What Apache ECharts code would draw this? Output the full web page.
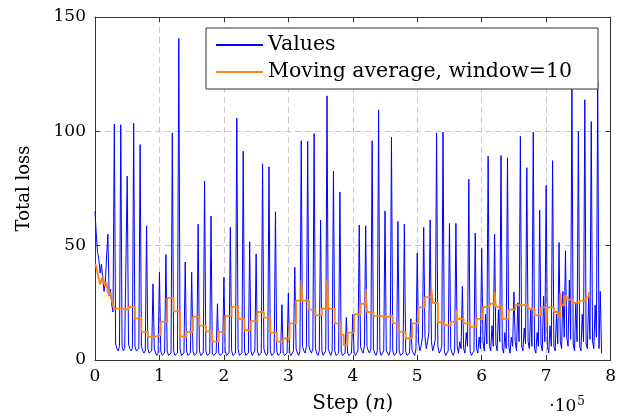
<!DOCTYPE html>
<html>
<head>
<meta charset="utf-8">
<script src="https://cdn.jsdelivr.net/npm/echarts@6/dist/echarts.min.js"></script>
<style>
html,body{margin:0;padding:0;background:#fff;}
#chart{width:619px;height:419px;}
</style>
</head>
<body>
<div id="chart"></div>
<script>
// ---- data ----
const SAMPLE_STEP = 2000;           // steps between recorded values
const seriesNames = ['Values', 'Moving average, window=10'];
const xTickLabels = ['0', '1', '2', '3', '4', '5', '6', '7', '8'];   // ×10^5
const yTickLabels = ['0', '50', '100', '150'];

// total loss, one value every 2000 steps
const lossStart = [65, 55, 47, 44, 38, 42, 36, 30, 34, 45, 55, 28, 31, 24, 21];
const lossA = [
  103.2, 7, 5, 4, 6,   102.9, 6, 4, 5, 5,   80.4, 7, 5, 4, 5,   103.6, 6, 4, 4, 5,
  94.2, 6, 4, 3, 4,    58.7, 5, 3, 3, 4,    33.3, 5, 3, 2, 3,   38.4, 4, 2, 2, 3,
  46.1, 4, 2, 2, 3,    99.3, 4, 2, 2, 3,    140.6, 5, 2, 2, 3,  42.8, 4, 2, 2, 3,
  38.4, 4, 2, 1.5, 3,  59.4, 4, 2, 2, 3,    78.3, 4, 2, 2, 3,   63, 3, 2, 1.5, 3,
  24.6, 3, 2, 2, 3,    36.2, 4, 2, 2, 3,    58, 4, 2, 2, 3,     105.8, 5, 2, 2, 3,
  91.3, 4, 2, 1.5, 3,  51.7, 4, 2, 2, 4,    46.4, 4, 2, 2, 3,   85.8, 5, 3, 2, 3,
  84.5, 4, 2, 2, 3
];
const lossB = [
  64.8, 4, 2, 1.5, 3,  24.2, 3, 2, 2, 3,    29.3, 3, 2, 2, 4,   40.6, 5, 3, 2, 4,
  95.9, 6, 4, 3, 6,    95.7, 6, 4, 3, 5,    99, 5, 3, 2, 4,     61.2, 4, 2, 2, 4,
  115.5, 5, 3, 2, 4,   82.6, 4, 2, 2, 3,    73.5, 4, 2, 1.5, 3, 18.6, 3, 2, 1.5, 3,
  20, 3, 2, 2, 4,      59, 6, 4, 3, 6,      58.7, 6, 4, 3, 5,   95.9, 5, 3, 2, 4,
  109.4, 4, 2, 2, 4,   65.2, 4, 3, 2, 4,    97.4, 4, 2, 2, 3,   60.6, 4, 2, 2, 3,
  59.4, 4, 2, 1.5, 3,  18, 4, 3, 2, 5,      46.7, 8, 4, 6, 10,  58, 10, 5, 8, 12,
  61.3, 8, 4, 6, 9
];
const lossC = [
  99.3, 6, 3, 4, 6,    99.7, 4, 2, 3, 4,    59.7, 5, 3, 2, 4,   59.7, 6, 3, 8, 5,
  32.2, 5, 3, 12, 6,   79, 4, 2, 3, 4,      55.5, 5, 3, 10, 5,  48.8, 8, 4, 20, 7,
  89.1, 6, 4, 15, 6,   55, 7, 4, 22, 8,     89.4, 5, 3, 12, 5,  88.4, 6, 3, 10, 6,
  29.7, 8, 4, 25, 8,   97.8, 6, 4, 14, 7,   84.1, 8, 5, 22, 6,  99.7, 5, 3, 12, 6,
  65.5, 7, 4, 28, 8,   76.4, 6, 3, 15, 6,   87.2, 6, 4, 20, 7,  51.4, 8, 5, 30, 10,
  47.8, 10, 6, 35, 9,  118.6, 7, 4, 25, 8,  100, 6, 4, 20, 8,   113.8, 7, 5, 28, 9,
  104.3, 8, 5, 24, 10, 121.7, 5, 30, 3
];

// moving average: step (thousands) where each level starts, and its value
const maStepsK = [
  0, 2, 4, 6, 8, 10, 12, 14, 16, 18, 20, 22, 24, 26, 28, 30,
  32, 42, 52, 62, 72, 82, 92, 102, 112, 122, 132, 142, 152, 162, 172, 182,
  192, 202, 212, 222, 232, 242, 252, 262, 272, 282, 292, 302, 312, 320, 322, 332,
  342, 352, 360, 362, 372, 382, 386, 392, 402, 412, 420, 422, 432, 442, 452, 462,
  472, 482, 492, 502, 512, 522, 524, 532, 542, 552, 560, 562, 572, 582, 592, 602,
  612, 620, 622, 632, 642, 652, 662, 672, 682, 692, 700, 702, 712, 718, 722, 724,
  728, 732, 742, 752, 762, 766, 768
];
const maValues = [
  42, 41, 38, 35, 33, 35, 36.5, 34, 32, 34, 29, 30.5, 28, 26, 24, 22.5,
  22.5, 22, 23.2, 18.2, 12.3, 10.1, 10.9, 16.8, 27.2, 21.3, 10.2, 12.2, 19, 15, 12.5, 8,
  12.3, 19.3, 23.2, 18, 13, 17, 21, 18.5, 12, 8, 9.4, 16, 26, 34.8, 26, 22,
  19.5, 22.5, 34.8, 22.5, 16, 11, 6.5, 12, 20, 24.6, 31, 21, 19.3, 18.8, 19.3, 16,
  12.3, 9.4, 16, 23, 27.5, 31, 25, 16.5, 15.2, 16.7, 21.7, 18, 16, 14.5, 18, 23.2,
  24.6, 29.7, 23.2, 18, 22, 24, 24, 22.5, 19.5, 23, 15.2, 23, 21, 18.8, 29.3, 24,
  28, 26.4, 25, 26, 27.5, 29.3, 29.3
];

// ---- build series data ----
const lossValues = [].concat(lossStart, lossA, lossB, lossC);
const valuesData = lossValues.map((v, i) => [i * SAMPLE_STEP, v]);
const maData = maStepsK.map((s, j) => [s * 1000, maValues[j]]);

const FONT = 'DejaVu Serif';
const AXIS_COLOR = '#333';
const BLUE = '#0000ff';
const ORANGE = '#ff8512';
const GRID_LINE = { show: true, lineStyle: { color: '#c8c8c8', type: [6, 4], width: 1 } };

const chart = echarts.init(document.getElementById('chart'), null, { renderer: 'canvas' });
chart.setOption({
  animation: false,
  backgroundColor: '#fff',
  grid: { left: 95, right: 6, top: 17, bottom: 57, containLabel: false },
  legend: {
    orient: 'vertical',
    left: 206,
    top: 28,
    padding: [6, 6, 6, 9],
    itemWidth: 47,
    itemHeight: 14,
    itemGap: 5,
    backgroundColor: '#fff',
    borderColor: '#333',
    borderWidth: 1,
    borderRadius: 0,
    z: 10,
    itemStyle: { opacity: 0, borderWidth: 0 },
    textStyle: { fontFamily: FONT, fontSize: 20.5, color: '#000', width: 324, lineHeight: 22 },
    data: seriesNames
  },
  xAxis: [{
    type: 'value', min: 0, max: 800000, interval: 100000,
    axisLine: { show: true, onZero: false, lineStyle: { color: AXIS_COLOR, width: 1 } },
    axisTick: { show: true, inside: true, length: 5, lineStyle: { color: AXIS_COLOR } },
    axisLabel: {
      fontFamily: FONT, fontSize: 17, color: '#000', margin: 8,
      formatter: v => xTickLabels[Math.round(v / 100000)]
    },
    splitLine: GRID_LINE,
    name: 'Step ({i|n})',
    nameLocation: 'middle',
    nameGap: 34,
    nameTextStyle: { fontFamily: FONT, fontSize: 20, color: '#000', rich: { i: { fontFamily: FONT, fontSize: 20, fontStyle: 'italic', color: '#000' } } }
  }, {
    type: 'value', position: 'top', min: 0, max: 800000, interval: 100000,
    axisLine: { show: true, onZero: false, lineStyle: { color: AXIS_COLOR, width: 1 } },
    axisTick: { show: true, inside: true, length: 5, lineStyle: { color: AXIS_COLOR } },
    axisLabel: { show: false },
    splitLine: { show: false }
  }],
  yAxis: [{
    type: 'value', min: 0, max: 150, interval: 50,
    axisLine: { show: true, onZero: false, lineStyle: { color: AXIS_COLOR, width: 1 } },
    axisTick: { show: true, inside: true, length: 5, lineStyle: { color: AXIS_COLOR } },
    axisLabel: {
      fontFamily: FONT, fontSize: 17, color: '#000', margin: 9,
      formatter: v => yTickLabels[Math.round(v / 50)]
    },
    splitLine: GRID_LINE,
    name: 'Total loss',
    nameLocation: 'middle',
    nameGap: 62,
    nameTextStyle: { fontFamily: FONT, fontSize: 18, color: '#000' }
  }, {
    type: 'value', position: 'right', min: 0, max: 150, interval: 50,
    axisLine: { show: true, onZero: false, lineStyle: { color: AXIS_COLOR, width: 1 } },
    axisTick: { show: true, inside: true, length: 5, lineStyle: { color: AXIS_COLOR } },
    axisLabel: { show: false },
    splitLine: { show: false }
  }],
  graphic: [{
    type: 'text',
    x: 585, y: 407,
    style: {
      text: '{a|·10}{s|5}',
      textAlign: 'right',
      textVerticalAlign: 'middle',
      rich: {
        a: { fontFamily: FONT, fontSize: 17, fill: '#000', color: '#000' },
        s: { fontFamily: FONT, fontSize: 12, fill: '#000', color: '#000', padding: [0, 0, 10, 1] }
      }
    }
  }],
  series: [{
    name: seriesNames[0],
    type: 'line',
    data: valuesData,
    symbol: 'none',
    showSymbol: false,
    lineStyle: { color: BLUE, width: 1 },
    itemStyle: { color: BLUE },
    z: 2
  }, {
    name: seriesNames[1],
    type: 'line',
    data: maData,
    step: 'end',
    symbol: 'none',
    showSymbol: false,
    lineStyle: { color: ORANGE, width: 1.8 },
    itemStyle: { color: ORANGE },
    z: 3
  }]
});
</script>
</body>
</html>
